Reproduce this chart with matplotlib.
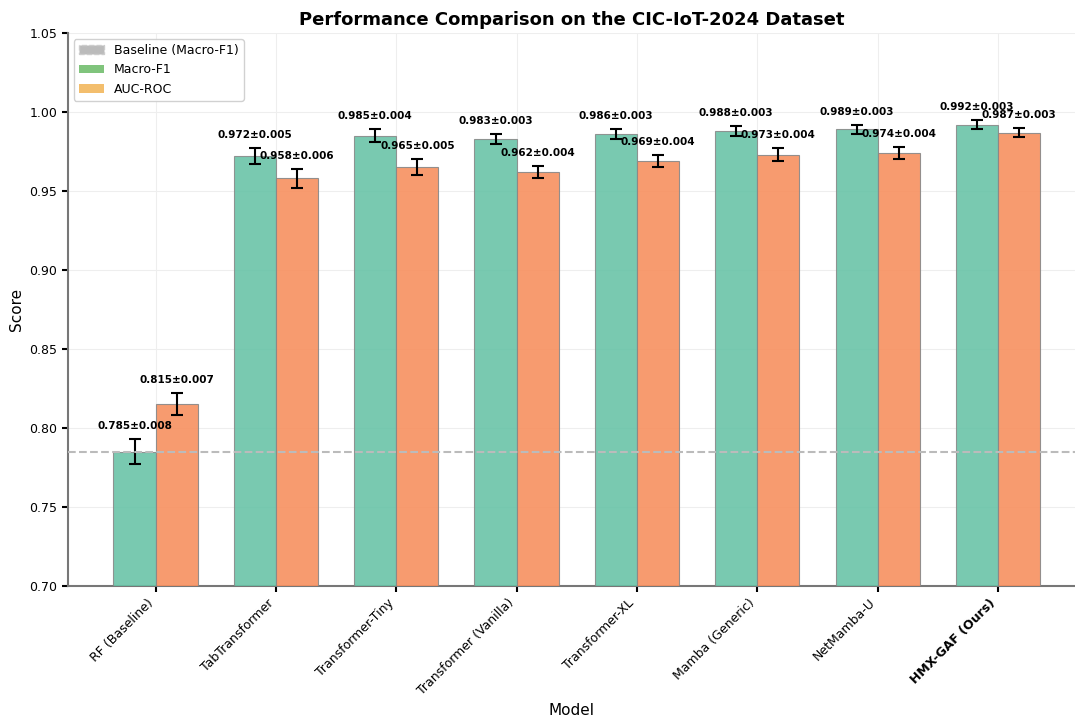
import numpy as np
import matplotlib
matplotlib.use("Agg")
from matplotlib import pyplot as plt
from matplotlib.patches import Patch

models = ['RF (Baseline)', 'TabTransformer', 'Transformer-Tiny', 'Transformer (Vanilla)',
          'Transformer-XL', 'Mamba (Generic)', 'NetMamba-U', 'HMX-GAF (Ours)']
f1 = [0.785, 0.972, 0.985, 0.983, 0.986, 0.988, 0.989, 0.992]
f1_err = [0.008, 0.005, 0.004, 0.003, 0.003, 0.003, 0.003, 0.003]
auc = [0.815, 0.958, 0.965, 0.962, 0.969, 0.973, 0.974, 0.987]
auc_err = [0.007, 0.006, 0.005, 0.004, 0.004, 0.004, 0.004, 0.003]
baseline = f1[0]

x = np.arange(len(models))
w = 0.35

fig = plt.figure(figsize=(10.75, 7.17), dpi=100)
ax = fig.add_axes([0.063, 0.1827, 0.937, 0.7713])

ax.bar(x - w/2, f1, w, yerr=f1_err, color='#66c2a5', alpha=0.88, edgecolor='#888888',
       linewidth=0.8, capsize=4, error_kw=dict(elinewidth=1.5, capthick=1.5, ecolor='black'), zorder=3)
ax.bar(x + w/2, auc, w, yerr=auc_err, color='#f7905f', alpha=0.9, edgecolor='#888888',
       linewidth=0.8, capsize=4, error_kw=dict(elinewidth=1.5, capthick=1.5, ecolor='black'), zorder=3)

for i in range(len(models)):
    ax.text(x[i] - w/2, f1[i] + f1_err[i] + 0.005, f'{f1[i]:.3f}±{f1_err[i]:.3f}',
            ha='center', va='bottom', fontsize=7.5, fontweight='bold', zorder=5)
    ax.text(x[i] + w/2, auc[i] + auc_err[i] + 0.005, f'{auc[i]:.3f}±{auc_err[i]:.3f}',
            ha='center', va='bottom', fontsize=7.5, fontweight='bold', zorder=5)

ax.axhline(baseline, color='#bbbbbb', linestyle='--', linewidth=1.5, zorder=4)

ax.set_ylim(0.70, 1.05)
ax.set_xlim(-0.73, 7.64)
ax.set_xticks(x)
ax.set_xticklabels(models, rotation=45, ha='right', fontsize=9)
ax.get_xticklabels()[-1].set_fontweight('bold')
ax.tick_params(axis='y', labelsize=9)
ax.tick_params(axis='both', width=1.5, length=4)
ax.set_xlabel('Model', fontsize=11)
ax.set_ylabel('Score', fontsize=11)
ax.set_title('Performance Comparison on the CIC-IoT-2024 Dataset', fontsize=13, fontweight='bold')
ax.grid(True, color='#eeeeee', linewidth=0.8, zorder=0)
ax.set_axisbelow(True)
for s in ['top', 'right']:
    ax.spines[s].set_visible(False)
for s in ['left', 'bottom']:
    ax.spines[s].set_color('#777777')
    ax.spines[s].set_linewidth(1.5)

handles = [Patch(facecolor='#bbbbbb', edgecolor='#cccccc', linestyle='--', label='Baseline (Macro-F1)'),
           Patch(facecolor='#80c47c', label='Macro-F1'),
           Patch(facecolor='#f3be6d', label='AUC-ROC')]
ax.legend(handles=handles, loc='upper left', fontsize=9, framealpha=0.9)

fig.savefig('out.png', dpi=100)
